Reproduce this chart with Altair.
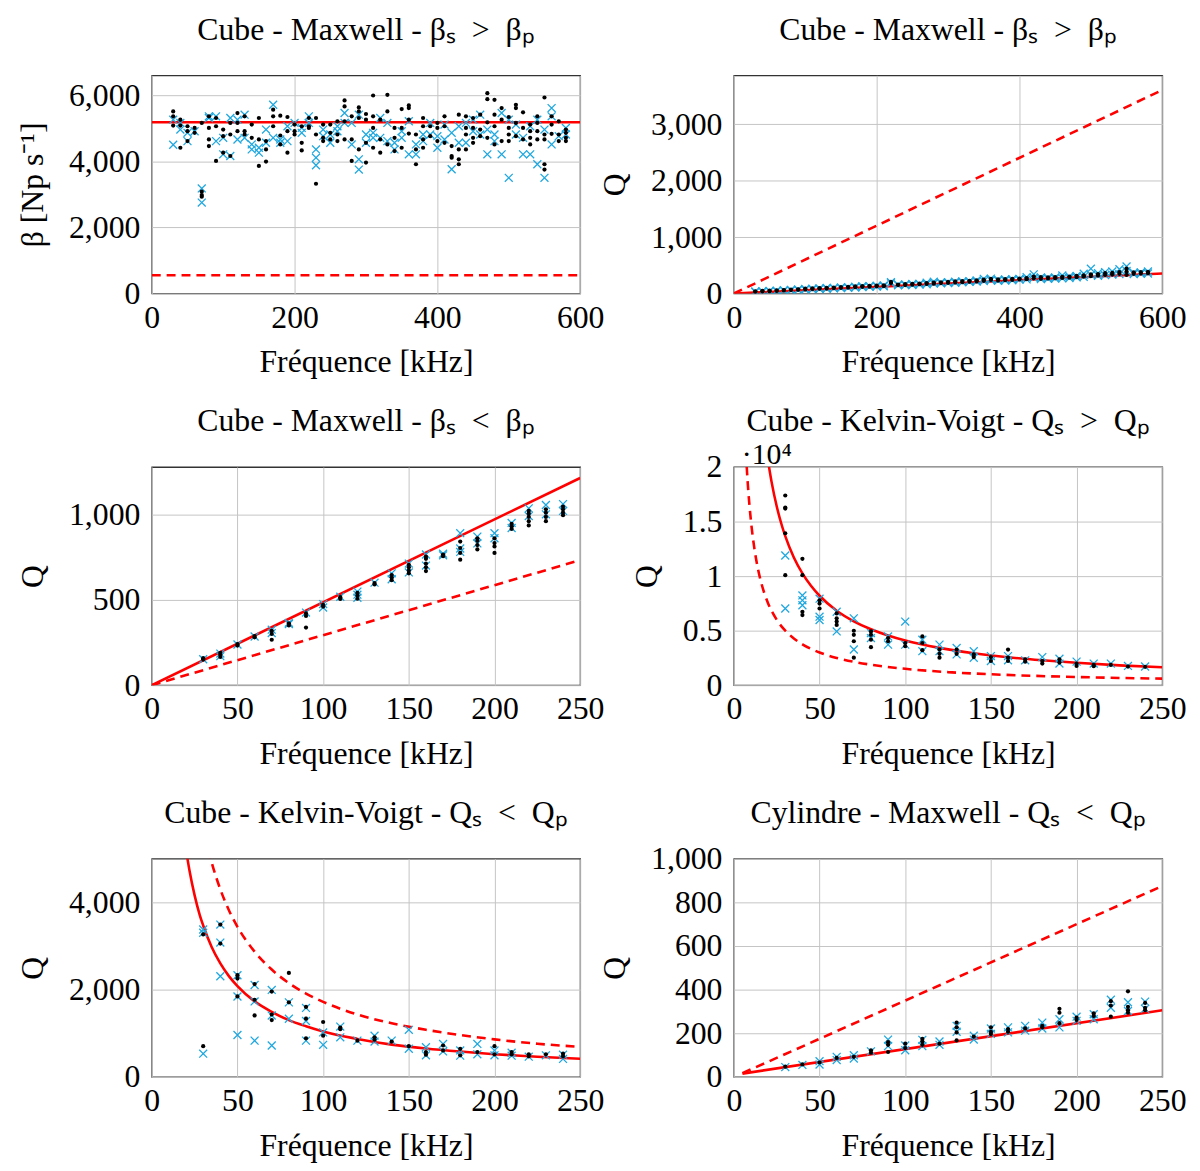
import altair as alt
import pandas as pd

FONT = "Liberation Serif"
FS = 32
RED = "#ff0000"
CYAN = "#1fa8e0"
XPATH = "M-1,-1L1,1M-1,1L1,-1"
GT = "\u2002>\u2002"
LT = "\u2002<\u2002"

# ---------------- Panel 1 : Cube - Maxwell - beta_s > beta_p (beta vs f) ----
p1_freq = [30, 40, 50, 60, 70, 80, 90, 100, 110, 120, 130, 140, 150, 160, 170, 180,
           190, 200, 210, 220, 230, 240, 250, 260, 270, 280, 290, 300, 310, 320, 330,
           340, 350, 360, 370, 380, 390, 400, 410, 420, 430, 440, 450, 460, 470, 480,
           490, 500, 510, 520, 530, 540, 550, 560, 570, 580]
p1_black = [[5510, 5360, 5080], [5260, 5080, 4410], [5060, 4910, 4610], [5010, 4860],
            [5160, 3080, 2980, 2930], [5360, 5010, 4660, 4460], [5310, 5060, 4010],
            [4960, 4760, 4260], [5160, 4810, 4160], [5460, 4910, 5160], [5360, 4910, 4810],
            [5110, 4710], [5310, 4660, 3860], [4610, 4360, 3990], [5560, 5360, 5060],
            [5380, 4780, 4510], [5340, 4910, 4260], [5110, 4910, 4810], [5060, 4560, 4330],
            [5310, 5060, 5010], [5310, 4810, 3320], [5110, 4710, 4610], [5110, 4860, 4660],
            [5210, 4810, 4610], [5840, 5660, 5210, 4660], [5360, 4660, 4010],
            [5630, 5510, 5310, 4360], [5430, 5260, 4560, 3960], [5990, 5360, 5010, 4410],
            [5260, 4660, 4260], [6010, 5510, 4510], [5010, 4710, 4310], [5580, 5010, 4410],
            [5690, 5610, 5260, 4840], [4810, 4360, 3910], [5310, 5060, 4660, 4410],
            [5060, 4760], [5160, 5010, 4610], [5360, 5060, 4560], [4460, 4160, 4110],
            [5410, 4360, 4060, 3910], [5360, 5010, 4810, 4360], [5310, 5010, 4710, 4560],
            [5410, 4960, 4760], [6060, 5880, 5180, 4710], [5860, 5410, 5060, 4510],
            [5610, 5260, 4610], [5340, 5010, 4810, 4610], [5710, 5610, 5160, 4760],
            [5480, 5010, 4660], [5110, 4910, 4710, 4510], [5360, 5160, 4910, 4660],
            [5930, 4810, 4660, 3910, 3750], [5360, 5110, 4830], [5210, 4810, 4610],
            [4960, 4860, 4710, 4610]]
p1_cyan = [[5260, 4500], [5160, 4960], [4610, 4860], [4910], [3180, 2750], [5360, 5310],
           [5360, 4610], [4210, 4710], [5310, 4160], [5260, 4660], [5410, 4710], [4510, 4360],
           [4260, 4410], [4960, 4560], [5710, 4710], [4660, 4560], [5060, 4610], [5160],
           [5010, 4860], [5360, 5160], [4360, 4110, 3880], [4960, 4760], [4810, 4560],
           [5060, 4910], [5460, 5160], [4510, 5160], [5410, 4060, 3750], [4810, 4560],
           [4860, 4710], [5310, 4710], [5160, 4610], [4560, 4360], [4910, 4710], [5210, 4210],
           [4510, 4210], [4810, 4610], [5160, 4810], [4760, 4410], [5110, 4660], [4860, 3760],
           [5060, 4560], [5160, 4560], [5260, 4910], [5410, 4810], [4960, 4210], [4810, 4610],
           [5460, 4210], [5260, 3500], [5110, 4810], [4710, 4210], [5060, 4210], [5260, 3910],
           [4960, 3500], [5610, 5360, 4510], [4760], [5010, 4810]]
p1_solid_f = [0, 600]
p1_solid_q = [5180, 5180]
p1_dash_f = [0, 600]
p1_dash_q = [550, 550]

# ---------------- Panel 2 : Cube - Maxwell - beta_s > beta_p (Q vs f) -------
p2_freq = p1_freq
p2_black = [[30, 40], [38, 45], [42, 50], [48, 55], [55, 62], [60, 70], [68, 75], [72, 85],
            [78, 90], [85, 95], [88, 100], [95, 105], [100, 112], [105, 118], [112, 125],
            [118, 130], [122, 135], [128, 140], [130, 145], [185, 205], [150, 160], [150, 165],
            [155, 170], [165, 175], [170, 185], [175, 195], [185, 200], [190, 205], [195, 215],
            [200, 220], [210, 225], [215, 235], [225, 245], [240, 260], [230, 250], [235, 255],
            [240, 260], [250, 265], [255, 275], [270, 300], [260, 290], [265, 285], [270, 290],
            [275, 295], [280, 300], [290, 315], [300, 320], [310, 340], [320, 345], [330, 360],
            [340, 365], [350, 380], [330, 390, 440], [350, 375], [355, 380], [360, 385]]
p2_cyan = [[35, 25], [40, 30], [45, 38], [50, 42], [58, 48], [65, 55], [72, 60], [80, 68],
           [85, 72], [92, 80], [98, 85], [100, 90], [108, 95], [112, 100], [120, 105],
           [128, 112], [132, 118], [138, 122], [142, 128], [200, 180], [158, 145], [160, 148],
           [168, 150], [172, 160], [190, 165], [210, 178], [195, 180], [200, 185], [210, 190],
           [215, 198], [220, 205], [230, 210], [260, 220], [265, 235], [245, 225], [250, 230],
           [255, 235], [260, 245], [290, 250], [340, 280], [285, 255], [280, 260], [285, 265],
           [320, 270], [305, 275], [310, 285], [350, 295], [440, 330], [360, 315], [380, 325],
           [390, 335], [430, 345], [480, 400], [370, 345], [375, 350], [390, 355]]
p2_solid_f = [0, 600]
p2_solid_q = [0, 356]
p2_dash_f = [0, 600]
p2_dash_q = [0, 3610]

# ---------------- Panel 3 : Cube - Maxwell - beta_s < beta_p ----------------
p3_freq = [30, 40, 50, 60, 70, 80, 90, 100, 110, 120, 130, 140, 150, 160, 170, 180, 190,
           200, 210, 220, 230, 240]
p3_black = [[150, 158], [165, 178, 190], [232, 240], [280, 288], [266, 300, 318], [350, 362],
            [337, 405, 420], [460, 470], [505, 515], [506, 525, 540], [590, 598],
            [615, 630, 645], [655, 672, 690, 705], [668, 690, 712, 740, 752], [755, 765],
            [735, 774, 803, 841], [795, 820, 845, 860], [774, 812, 832, 860], [915, 930, 945],
            [935, 960, 985, 1005, 1020], [960, 985, 1010, 1030], [995, 1010, 1030, 1045]]
p3_cyan = [[152], [185, 170], [238], [285], [325, 305], [365, 358], [425], [475, 455], [518],
           [548, 530, 512], [600], [655, 620], [712, 660], [765, 700], [770, 760],
           [890, 800, 780], [870, 830], [890, 860], [950, 920], [1035, 990], [1055, 1000],
           [1060, 1020]]
p3_solid_f = [0, 250]
p3_solid_q = [0, 1213]
p3_dash_f = [0, 250]
p3_dash_q = [0, 732]

# ---------------- Panel 4 : Cube - Kelvin-Voigt - Q_s > Q_p -----------------
p4_freq = p3_freq
p4_black = [[17390, 16280, 16190, 13930, 10090], [11590, 10090, 6730, 6430],
            [7780, 7480, 7030], [6580, 6130, 5830, 5530], [4990, 4620, 4030, 2520],
            [4930, 4620, 4170, 3490], [4320, 4030], [3870, 3570], [4470, 3870, 3210],
            [3270, 2880, 2520], [3270, 2880], [2820, 2580], [2580, 2220], [3270, 2520, 2220],
            [2370, 2160], [2220, 1980], [2370, 2070], [1980, 1770], [1860, 1740], [1860],
            [1710], [1680]]
p4_cyan = [[11890, 7030], [8230, 7780, 7330], [7930, 6280, 5980], [6730, 4930],
           [6130, 3270], [4780, 4320], [4470, 3720], [5830, 3720], [4170, 3120],
           [3720, 3120], [3420, 2820], [3120, 2520], [2670, 2220], [2670, 2280], [2280],
           [2580], [2430, 1980], [2160], [1980], [1980], [1770], [1710]]
p4_solid_f = [20, 22, 25, 28, 30, 35, 40, 45, 50, 60, 70, 80, 90, 100, 120, 140, 160, 180,
              200, 225, 250]
p4_solid_q = [20500, 18640, 16400, 14640, 13670, 11710, 10250, 9110, 8200, 6830, 5860,
              5130, 4560, 4100, 3420, 2930, 2560, 2280, 2050, 1820, 1640]
p4_dash_f = [7, 8, 9, 10, 12, 14, 16, 18, 20, 25, 30, 35, 40, 50, 60, 70, 80, 100, 125,
             150, 175, 200, 250]
p4_dash_q = [21430, 18750, 16670, 15000, 12500, 10710, 9380, 8330, 7500, 6000, 5000, 4290,
             3750, 3000, 2500, 2140, 1880, 1500, 1200, 1000, 860, 750, 600]

# ---------------- Panel 5 : Cube - Kelvin-Voigt - Q_s < Q_p -----------------
p5_freq = p3_freq
p5_black = [[3265, 704], [3490, 3056], [2330, 2254, 1843], [2127, 1768, 1408],
            [1955, 1430, 1303], [2382, 1708], [1603, 1333, 884], [1258, 944], [1131, 1093],
            [831], [906, 854], [809], [704], [569, 509], [719, 607], [644, 494], [569],
            [704, 517], [569, 517], [517, 472], [517], [532, 472]]
p5_cyan = [[3378, 3303, 532], [3490, 3078, 2307], [2330, 1843, 959], [2105, 1730, 831],
           [1993, 1408, 719], [1708, 1333], [1580, 1281, 831], [1019, 734], [1153, 906],
           [831], [944, 809], [831], [1078, 644], [681, 494], [756, 584], [607, 487],
           [756, 517], [607, 494], [554, 487], [464], [494], [509, 412]]
p5_solid_f = p4_solid_f
p5_solid_q = [5200, 4730, 4160, 3710, 3470, 2970, 2600, 2310, 2080, 1730, 1490, 1300, 1160,
              1040, 870, 740, 650, 580, 520, 460, 416]
p5_dash_f = [33, 35, 40, 45, 50, 60, 70, 80, 90, 100, 120, 140, 160, 180, 200, 225, 250]
p5_dash_q = [5210, 4910, 4300, 3820, 3440, 2870, 2460, 2150, 1910, 1720, 1430, 1230, 1080,
             960, 860, 760, 690]

# ---------------- Panel 6 : Cylindre - Maxwell - Q_s < Q_p ------------------
p6_freq = p3_freq
p6_black = [[47], [57], [66], [87], [92], [122, 111], [159, 147, 114], [152, 132],
            [174, 162, 147], [152], [249, 227, 204, 167], [185], [227, 207, 197], [219, 207],
            [222], [234, 227], [312, 294, 246], [272, 261], [291, 279], [347, 327, 276],
            [392, 321, 306, 294], [339, 317, 306]]
p6_cyan = [[45], [55], [72, 57], [92, 77], [99, 84], [117], [171, 141], [144, 122], [170, 141],
           [162, 147], [234, 207], [189, 171], [222, 197], [227, 204], [234, 212], [249, 222],
           [227, 264], [276, 257], [287, 264], [354, 317], [342, 302], [345, 312]]
p6_solid_f = [5, 250]
p6_solid_q = [15, 305]
p6_dash_f = [5, 250]
p6_dash_q = [17, 875]

TITLES = ["Cube - Maxwell - βₛ" + GT + "βₚ",
          "Cube - Maxwell - βₛ" + GT + "βₚ",
          "Cube - Maxwell - βₛ" + LT + "βₚ",
          "Cube - Kelvin-Voigt - Qₛ" + GT + "Qₚ",
          "Cube - Kelvin-Voigt - Qₛ" + LT + "Qₚ",
          "Cylindre - Maxwell - Qₛ" + LT + "Qₚ"]

W, H = 432, 220


def points(freq, values):
    rows = []
    for f, vals in zip(freq, values):
        for v in vals:
            rows.append({"f": f, "q": v})
    return pd.DataFrame(rows)


def curve(fs, qs):
    return pd.DataFrame({"f": fs, "q": qs})


def panel(title, freq, black, cyan, sf, sq, df_, dq, xdom, xticks, ydom, yticks, ytitle,
          ylabel_expr=None, note=None):
    xenc = alt.X("f:Q", scale=alt.Scale(domain=xdom, nice=False, zero=False),
                 axis=alt.Axis(values=xticks, title="Fréquence [kHz]", format="d"))
    yaxis = dict(values=yticks, title=ytitle, format=",d")
    if ylabel_expr:
        yaxis["labelExpr"] = ylabel_expr
    yenc = alt.Y("q:Q", scale=alt.Scale(domain=ydom, nice=False, zero=False),
                 axis=alt.Axis(**yaxis))
    solid = alt.Chart(curve(sf, sq)).mark_line(
        color=RED, strokeWidth=2.6, clip=True, interpolate="monotone").encode(x=xenc, y=yenc)
    dashed = alt.Chart(curve(df_, dq)).mark_line(
        color=RED, strokeWidth=2.6, clip=True, strokeDash=[9, 6],
        interpolate="monotone").encode(x=xenc, y=yenc)
    cy = alt.Chart(points(freq, cyan)).mark_point(
        shape=XPATH, filled=False, stroke=CYAN, strokeWidth=1.3, size=64, opacity=1,
        clip=True).encode(x=xenc, y=yenc)
    bk = alt.Chart(points(freq, black)).mark_circle(
        color="black", size=18, opacity=1, clip=True).encode(x=xenc, y=yenc)
    ttl = alt.Chart(pd.DataFrame({"t": [title]})).mark_text(
        align="center", baseline="alphabetic", font=FONT, fontSize=FS, color="black"
    ).encode(x=alt.value(W / 2), y=alt.value(-36), text="t:N")
    layers = [dashed, solid, cy, bk, ttl]
    if note:
        layers.append(alt.Chart(pd.DataFrame({"t": [note]})).mark_text(
            align="left", baseline="alphabetic", font=FONT, fontSize=30, color="black"
        ).encode(x=alt.value(8), y=alt.value(-3), text="t:N"))
    return alt.layer(*layers).properties(width=W, height=H)


c1 = panel(TITLES[0], p1_freq, p1_black, p1_cyan, p1_solid_f, p1_solid_q,
           p1_dash_f, p1_dash_q, [0, 600], [0, 200, 400, 600], [0, 6600],
           [0, 2000, 4000, 6000], "β [Np s⁻¹]")
c2 = panel(TITLES[1], p2_freq, p2_black, p2_cyan, p2_solid_f, p2_solid_q,
           p2_dash_f, p2_dash_q, [0, 600], [0, 200, 400, 600], [0, 3870],
           [0, 1000, 2000, 3000], "Q")
c3 = panel(TITLES[2], p3_freq, p3_black, p3_cyan, p3_solid_f, p3_solid_q,
           p3_dash_f, p3_dash_q, [0, 250], [0, 50, 100, 150, 200, 250], [0, 1277],
           [0, 500, 1000], "Q")
c4 = panel(TITLES[3], p4_freq, p4_black, p4_cyan, p4_solid_f,
           p4_solid_q, p4_dash_f, p4_dash_q, [0, 250], [0, 50, 100, 150, 200, 250],
           [0, 20000], [0, 5000, 10000, 15000, 20000], "Q",
           ylabel_expr="datum.value / 10000", note="·10⁴")
c5 = panel(TITLES[4], p5_freq, p5_black, p5_cyan, p5_solid_f,
           p5_solid_q, p5_dash_f, p5_dash_q, [0, 250], [0, 50, 100, 150, 200, 250],
           [0, 5000], [0, 2000, 4000], "Q")
c6 = panel(TITLES[5], p6_freq, p6_black, p6_cyan, p6_solid_f,
           p6_solid_q, p6_dash_f, p6_dash_q, [0, 250], [0, 50, 100, 150, 200, 250],
           [0, 1000], [0, 200, 400, 600, 800, 1000], "Q")

chart = alt.concat(c1, c2, c3, c4, c5, c6, columns=2,
                   spacing={"row": 175, "column": 155}, bounds="flush").configure_view(
    stroke="#333333", strokeWidth=1.3
).configure_axis(
    labelFont=FONT, titleFont=FONT, labelFontSize=FS, titleFontSize=FS,
    labelColor="black", titleColor="black", titleFontWeight="normal",
    ticks=False, domain=False, grid=True, gridColor="#c4c4c4", gridWidth=1,
    labelFlush=False, labelOverlap=False, labelPadding=12, titlePadding=19
).configure_axisX(labelPadding=9, titlePadding=14).properties(
    background="white", padding={"left": 8, "top": 0, "right": 5, "bottom": 5})

chart.save("out.html", embed_options={"renderer": "svg", "actions": False})
